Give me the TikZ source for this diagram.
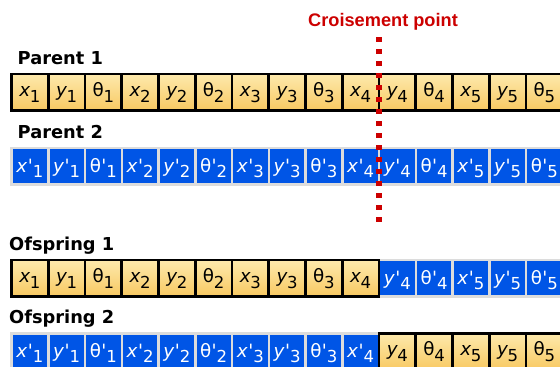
\documentclass[tikz,border=0pt]{standalone}
\usepackage{fontspec}
\newfontfamily\cellfont{DejaVu Sans}
\newfontfamily\labfont{DejaVu Sans}
\newfontfamily\arialfont{Liberation Sans}
\definecolor{goldtop}{HTML}{FDE9AC}
\definecolor{goldbot}{HTML}{F8C962}
\definecolor{cellblue}{HTML}{0055E6}
\definecolor{cellgrey}{HTML}{DCDCDC}
\definecolor{cutred}{HTML}{CC0000}
\newcommand{\gX}{{\itshape x}}
\newcommand{\gY}{{\itshape y}}
\newcommand{\gT}{θ}
\newcommand{\gXp}{{\itshape x\kern0.5pt'}}
\newcommand{\gYp}{{\itshape y\kern0.5pt'}}
\newcommand{\gTp}{θ\kern0.5pt'}
\newcommand{\cellv}[2]{\csname g#1\endcsname\kern-0.3pt\raisebox{-5.5pt}{\fontsize{16.5}{16.5}\selectfont #2}}
\newcommand{\cellp}[2]{\csname g#1p\endcsname\raisebox{-5pt}{\fontsize{16.5}{16.5}\selectfont #2}}
\tikzset{
  ycell/.style={draw=black, line width=2.6pt, top color=goldtop, bottom color=goldbot,
    minimum width=36.75pt, minimum height=36.5pt, inner sep=0pt,
    text height=13pt, text depth=4.4pt, text=black,
    font=\cellfont\fontsize{18.3}{18.3}\selectfont},
  bcell/.style={draw=cellgrey, line width=2.5pt, fill=cellblue,
    minimum width=36.75pt, minimum height=36.5pt, inner sep=0pt,
    text height=13pt, text depth=1.5pt, text=white,
    font=\cellfont\fontsize{18.3}{18.3}\selectfont},
  lab/.style={anchor=base west, inner sep=0pt, text=black,
    font=\labfont\bfseries\fontsize{17.8}{20}\selectfont},
  cutlab/.style={anchor=base west, inner sep=0pt, text=cutred,
    font=\arialfont\bfseries\fontsize{18.2}{20}\selectfont},
  cutline/.style={draw=cutred, line width=5.6pt, dash pattern=on 4.5pt off 7.5pt}
}
\begin{document}
\begin{tikzpicture}[x=1pt, y=-1pt]
\clip (0,0) rectangle (560,367);
% blue cells
\foreach \k/\s/\d in {1/X/1,2/Y/1,3/T/1,4/X/2,5/Y/2,6/T/2,7/X/3,8/Y/3,9/T/3,10/X/4,11/Y/4,12/T/4,13/X/5,14/Y/5,15/T/5}{
  \node[bcell] (pb\k) at ({11.5+(\k-0.5)*36.75}, 166.4) {\cellp{\s}{\d}};
  \ifnum\k>10
    \node[bcell] (oa\k) at ({11.5+(\k-0.5)*36.75}, 278.3) {\cellp{\s}{\d}};
  \else
    \node[bcell] (ob\k) at ({11.5+(\k-0.5)*36.75}, 351.6) {\cellp{\s}{\d}};
  \fi
}
% yellow cells
\foreach \k/\s/\d in {1/X/1,2/Y/1,3/T/1,4/X/2,5/Y/2,6/T/2,7/X/3,8/Y/3,9/T/3,10/X/4,11/Y/4,12/T/4,13/X/5,14/Y/5,15/T/5}{
  \node[ycell] (pa\k) at ({11.5+(\k-0.5)*36.75}, 92.4) {\cellv{\s}{\d}};
  \ifnum\k>10
    \node[ycell] (ob\k) at ({11.5+(\k-0.5)*36.75}, 351.6) {\cellv{\s}{\d}};
  \else
    \node[ycell] (oa\k) at ({11.5+(\k-0.5)*36.75}, 278.3) {\cellv{\s}{\d}};
  \fi
}
% labels
\node[lab] (lp1) at (17.5,64) {Parent 1};
\node[lab] (lp2) at (17.5,138.3) {Parent 2};
\node[lab] (lo1) at (9,250) {Ofspring 1};
\node[lab] (lo2) at (9,323.3) {Ofspring 2};
\node[cutlab] (cut) at (308,26.7) {Croisement point};
% crossover line
\coordinate (ctop) at (378.7,37);
\coordinate (cbot) at (378.7,221.5);
\draw[cutline] (ctop) -- (cbot);
\end{tikzpicture}
\end{document}
